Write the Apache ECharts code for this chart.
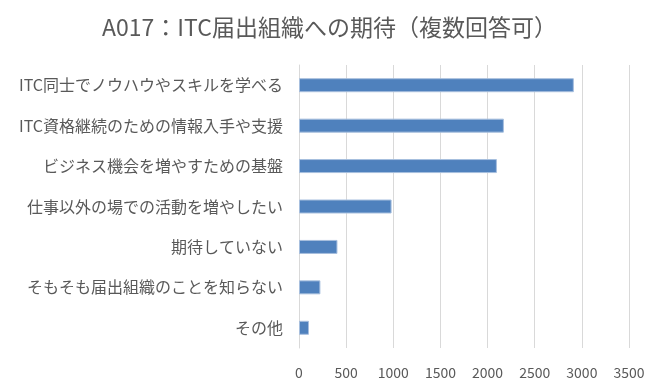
<!DOCTYPE html>
<html><head><meta charset="utf-8">
<script src="https://cdn.jsdelivr.net/npm/echarts@6/dist/echarts.min.js"></script>
<style>html,body{margin:0;padding:0;background:#fff}#c{width:659px;height:389px}</style>
</head><body><div id="c"></div>
<script>
const title = 'A017：ITC届出組織への期待（複数回答可）';
const categories = ['ITC同士でノウハウやスキルを学べる','ITC資格継続のための情報入手や支援','ビジネス機会を増やすための基盤','仕事以外の場での活動を増やしたい','期待していない','そもそも届出組織のことを知らない','その他'];
const values = [2915, 2173, 2099, 982, 408, 227, 106];
const xTicks = [0,500,1000,1500,2000,2500,3000,3500];
const font = '"Noto Sans CJK JP", "Noto Sans", sans-serif';
const chart = echarts.init(document.getElementById('c'));
chart.setOption({
  animation:false,
  title:{text:title,left:'center',top:11,textStyle:{fontFamily:font,fontSize:23,fontWeight:'normal',color:'#595959'}},
  grid:{left:299,right:30,top:65,bottom:41,containLabel:false},
  xAxis:{type:'value',min:xTicks[0],max:xTicks[xTicks.length-1],interval:500,
    axisLine:{show:false},axisTick:{show:false},
    axisLabel:{fontFamily:font,fontSize:14,color:'#595959',margin:18,formatter:v=>String(v)},
    splitLine:{lineStyle:{color:'#d9d9d9',width:1}}},
  yAxis:{type:'category',data:categories,inverse:true,
    axisLine:{lineStyle:{color:'#d9d9d9'}},axisTick:{show:false},
    axisLabel:{fontFamily:font,fontSize:16,color:'#595959',margin:16}},
  series:[{type:'bar',data:values,barWidth:14,
    itemStyle:{color:'#4f81bd',borderColor:'#a7bfde',borderWidth:1}}]
});
</script></body></html>
